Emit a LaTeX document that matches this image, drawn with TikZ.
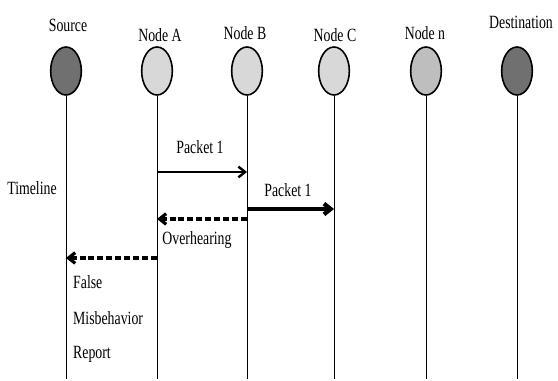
\documentclass[tikz,border=0pt]{standalone}
\usepackage{fontspec}
\setmainfont{Liberation Serif}
\usetikzlibrary{shapes.geometric,arrows.meta}
\definecolor{endgray}{RGB}{112,112,112}
\definecolor{hopgray}{RGB}{216,216,216}
\definecolor{midgray}{RGB}{190,190,190}
\tikzset{
  host/.style={ellipse,draw,line width=1.2pt,minimum width=23pt,minimum height=36pt,inner sep=0pt},
  lbl/.style={font=\fontsize{14}{16}\selectfont,xscale=0.74,inner sep=0pt},
  packet/.style={-{Straight Barb[length=5pt,width=8pt]},line width=1.8pt},
  hear/.style={-{Straight Barb[length=5pt,width=8pt]},line width=2.4pt,dash pattern=on 4.5pt off 2.2pt}
}
\begin{document}
\begin{tikzpicture}[x=0.75pt,y=-0.75pt,line join=round]
  \useasboundingbox (0,0) rectangle (558,381);
  % hosts
  \node[host,fill=endgray] (src) at (66,71) {};
  \node[host,fill=hopgray] (na) at (157,71) {};
  \node[host,fill=hopgray] (nb) at (247,71) {};
  \node[host,fill=hopgray] (nc) at (334,71) {};
  \node[host,fill=midgray] (nn) at (426,71) {};
  \node[host,fill=endgray] (dst) at (517,71) {};
  % lifelines
  \foreach \h in {src,na,nb,nc,nn,dst}
    \draw[line width=0.6pt] (\h.south) -- (\h |- 0,379);
  % messages
  \draw[packet] (na |- 0,172) -- (nb |- 0,172);
  \draw[packet,line width=3.2pt] (nb |- 0,209) -- (nc |- 0,209);
  \draw[hear] (nb |- 0,219) -- (na |- 0,219);
  \draw[hear] (na |- 0,258) -- (src |- 0,258);
  % texts
  \node[lbl] (tsrc) at (68,25) {Source};
  \node[lbl] (tna) at (160,35) {Node A};
  \node[lbl] (tnb) at (245,33) {Node B};
  \node[lbl] (tnc) at (335,35) {Node C};
  \node[lbl] (tnn) at (425,33) {Node n};
  \node[lbl] (tdst) at (521,22) {Destination};
  \node[lbl] (p1) at (200,147) {Packet 1};
  \node[lbl] (p2) at (288,190) {Packet 1};
  \node[lbl] (ovh) at (197,240) {Overhearing};
  \node[lbl] (tl) at (32,188) {Timeline};
  \node[lbl,anchor=west] (r1) at (73,282) {False};
  \node[lbl,anchor=west] (r2) at (73,318) {Misbehavior};
  \node[lbl,anchor=west] (r3) at (73,354) {Report};
\end{tikzpicture}
\end{document}
